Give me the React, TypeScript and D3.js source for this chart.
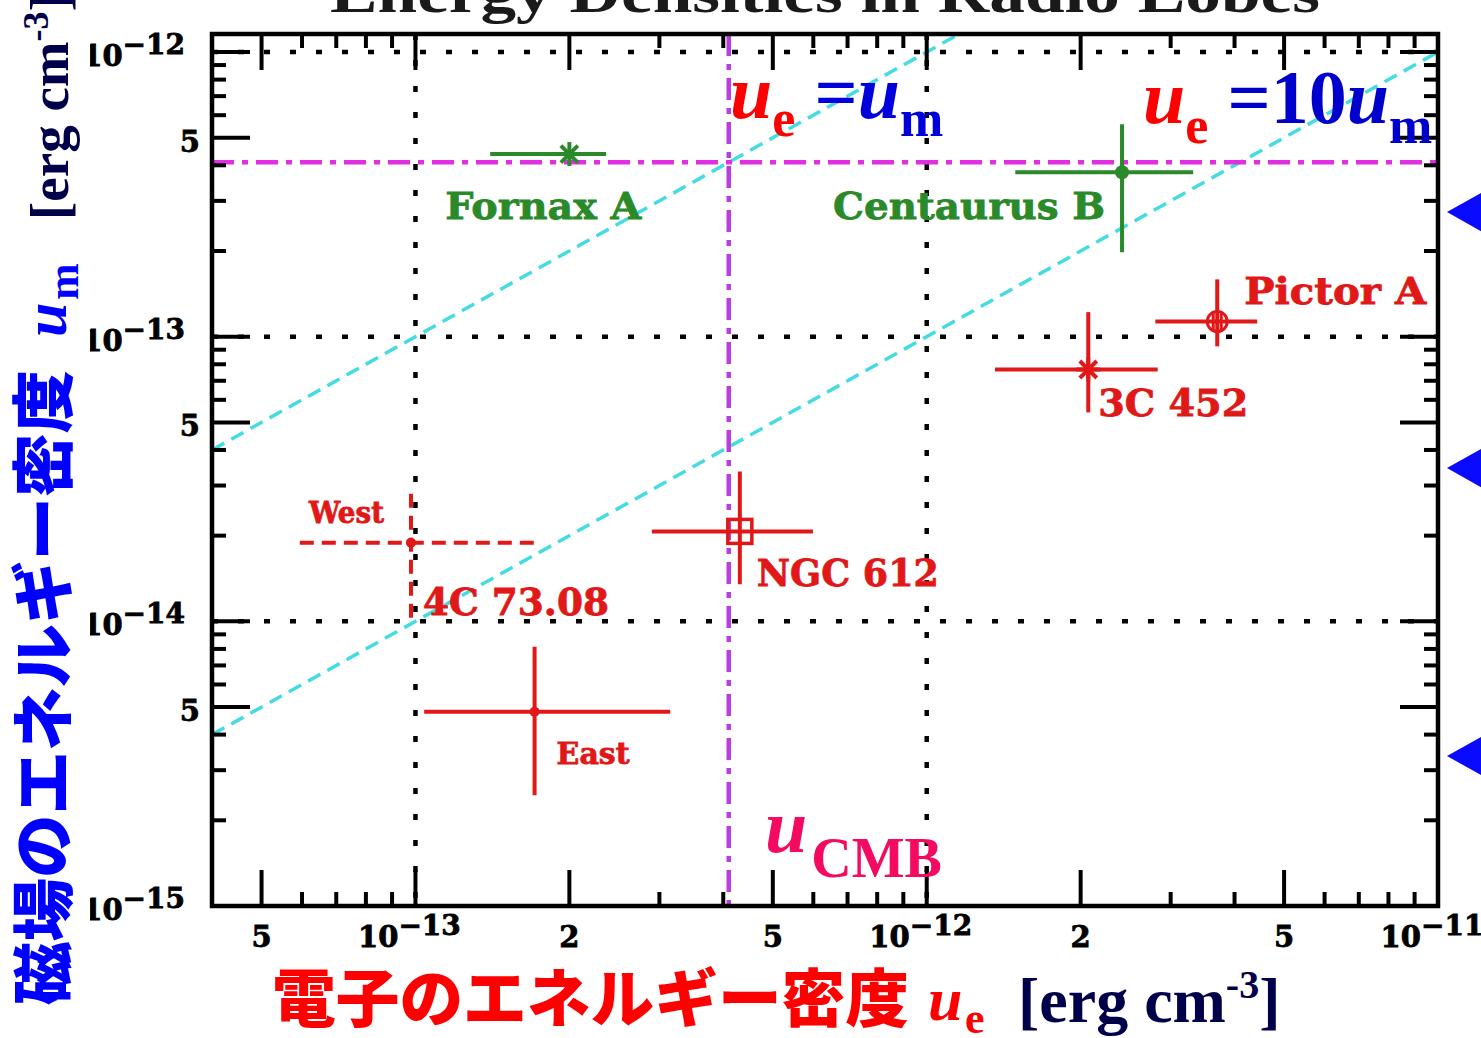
import React from "react";
import * as d3 from "d3";

// ---------------- data ----------------
const sourceNames = ["Fornax A", "Centaurus B", "3C 452", "Pictor A", "NGC 612", "4C 73.08 West", "4C 73.08 East"];
// electron energy density u_e [erg cm^-3]
const ueCenter = [2.0e-13, 2.41e-12, 2.07e-12, 3.70e-12, 4.31e-13, 9.8e-14, 1.71e-13];
const ueLow = [1.4e-13, 1.49e-12, 1.36e-12, 2.80e-12, 2.90e-13, 5.94e-14, 1.04e-13];
const ueHigh = [2.36e-13, 3.32e-12, 2.83e-12, 4.43e-12, 5.99e-13, 1.75e-13, 3.15e-13];
// magnetic energy density u_m [erg cm^-3]
const umCenter = [4.38e-13, 3.78e-13, 7.67e-14, 1.13e-13, 2.07e-14, 1.89e-14, 4.81e-15];
const umLow = [4.38e-13, 1.98e-13, 5.42e-14, 9.25e-14, 1.35e-14, 1.03e-14, 2.45e-15];
const umHigh = [4.38e-13, 5.58e-13, 1.22e-13, 1.59e-13, 3.36e-14, 2.9e-14, 8.15e-15];

const uCMB = 4.1e-13;
const equipartitionRatios = [1, 10]; // u_e / u_m

const xDomain = [4.0e-14, 1e-11];
const yDomain = [1e-15, 1.157e-12];
const xLabeledTicks = [5e-14, 1e-13, 2e-13, 5e-13, 1e-12, 2e-12, 5e-12, 1e-11];
const yLabeledTicks = [1e-15, 5e-15, 1e-14, 5e-14, 1e-13, 5e-13, 1e-12];
const gridDecadesX = [1e-13, 1e-12];
const gridDecadesY = [1e-14, 1e-13, 1e-12];

// point labels: text, source index
const labelTexts = ["Fornax A", "Centaurus B", "3C 452", "Pictor A", "NGC 612", "West", "4C 73.08", "East"];
const labelSource = [0, 1, 2, 3, 4, 5, 5, 6];

// ---------------- styles / layout ----------------
const W = 1481, H = 1038;
const P = { left: 212, right: 1438, top: 34, bottom: 906 };
const GREEN = "#2a8a2a";
const RED = "#e01818";
const styleByName: Record<string, { color: string; marker: string; dashed?: boolean }> = {
  "Fornax A": { color: GREEN, marker: "asterisk" },
  "Centaurus B": { color: GREEN, marker: "dot" },
  "3C 452": { color: RED, marker: "asterisk" },
  "Pictor A": { color: RED, marker: "circle" },
  "NGC 612": { color: RED, marker: "square" },
  "4C 73.08 West": { color: RED, marker: "smalldot", dashed: true },
  "4C 73.08 East": { color: RED, marker: "smalldot" },
};
// label layout: pixel offset from point, width, font size
const labelLayout = [
  { dx: -124, dy: 65, w: 196, fs: 38 },
  { dx: -289, dy: 47, w: 272, fs: 38 },
  { dx: 10, dy: 47, w: 150, fs: 37 },
  { dx: 27, dy: -18, w: 182, fs: 37 },
  { dx: 17, dy: 55, w: 182, fs: 37 },
  { dx: -102, dy: -20, w: 75, fs: 30 },
  { dx: 12, dy: 72, w: 186, fs: 37 },
  { dx: 22, dy: 52, w: 73, fs: 30 },
];

const TICKFONT = "'DejaVu Serif', serif";
const SERIF = "'Liberation Serif', 'Times New Roman', serif";
const CJK = "'Noto Sans CJK JP', sans-serif";

function mantissa(v: number) {
  const e = Math.floor(Math.log10(v) + 1e-9);
  return { m: Math.round(v / Math.pow(10, e)), e };
}

export default function App() {
  const x = d3.scaleLog().domain(xDomain).range([P.left, P.right]);
  const y = d3.scaleLog().domain(yDomain).range([P.bottom, P.top]);

  const xTicks = x.ticks().filter((v) => v > xDomain[0] * 1.001 && v < xDomain[1] * 0.999);
  const yTicks = y.ticks().filter((v) => v > yDomain[0] * 1.001 && v < yDomain[1] * 0.999);
  const isLongX = (v: number) => xLabeledTicks.some((t) => Math.abs(t - v) / t < 1e-6);
  const isLongY = (v: number) => yLabeledTicks.some((t) => Math.abs(t - v) / t < 1e-6);
  const LONG = 36, SHORT = 14;

  const marker = (kind: string, cx: number, cy: number, color: string) => {
    const r = 12;
    switch (kind) {
      case "asterisk":
        return (
          <g stroke={color} strokeWidth={4}>
            {[0, 45, 90, 135].map((a) => {
              const rad = (a * Math.PI) / 180;
              return (
                <line key={a} x1={cx - r * Math.cos(rad)} y1={cy - r * Math.sin(rad)} x2={cx + r * Math.cos(rad)} y2={cy + r * Math.sin(rad)} />
              );
            })}
          </g>
        );
      case "dot":
        return <circle cx={cx} cy={cy} r={7} fill={color} />;
      case "smalldot":
        return <circle cx={cx} cy={cy} r={5} fill={color} />;
      case "circle":
        return (
          <g stroke={color} strokeWidth={3} fill="none">
            <circle cx={cx} cy={cy} r={10} />
            <line x1={cx - 4} y1={cy - 10} x2={cx - 4} y2={cy + 10} />
            <line x1={cx + 4} y1={cy - 10} x2={cx + 4} y2={cy + 10} />
          </g>
        );
      case "square":
        return (
          <g stroke={color} strokeWidth={3.5} fill="none">
            <rect x={cx - 12} y={cy - 12} width={24} height={24} />
          </g>
        );
      default:
        return null;
    }
  };

  const supLabel = (v: number) => {
    const { m, e } = mantissa(v);
    if (m === 1) return { base: "10", sup: "\u2212" + String(-e) };
    return { base: String(m), sup: "" };
  };

  return (
    <svg width={W} height={H} style={{ position: "absolute", left: 0, top: 0, background: "#fff" }}>
      <defs>
        <clipPath id="plotClip">
          <rect x={P.left} y={P.top} width={P.right - P.left} height={P.bottom - P.top} />
        </clipPath>
        <clipPath id="yLabClip">
          <rect x={90} y={0} width={W} height={H} />
        </clipPath>
      </defs>
      <rect x={0} y={0} width={W} height={H} fill="#fff" />

      {/* Title (mostly cut off at top) */}
      <text x={330} y={12} fontFamily={SERIF} fontWeight="bold" fontSize={58} fill="#1a1a1a" textLength={990} lengthAdjust="spacingAndGlyphs">
        Energy Densities in Radio Lobes
      </text>

      {/* dotted grid at decades */}
      <g stroke="#000" strokeWidth={4.5} strokeDasharray="6,20">
        {gridDecadesX.map((v) => (
          <line key={"gx" + v} x1={x(v)} x2={x(v)} y1={P.top} y2={P.bottom} />
        ))}
        {gridDecadesY.map((v) => (
          <line key={"gy" + v} y1={y(v)} y2={y(v)} x1={P.left} x2={P.right} />
        ))}
      </g>

      {/* equipartition lines */}
      <g clipPath="url(#plotClip)" stroke="#44dce2" strokeWidth={3.5} strokeDasharray="14,8" fill="none">
        {equipartitionRatios.map((r) => (
          <line key={"eq" + r} x1={x(xDomain[0])} y1={y(xDomain[0] / r)} x2={x(xDomain[1])} y2={y(xDomain[1] / r)} />
        ))}
      </g>

      {/* u_CMB lines */}
      <line x1={P.left} x2={P.right} y1={y(uCMB)} y2={y(uCMB)} stroke="#e22ee2" strokeWidth={4.5} strokeDasharray="22,8,6,8" />
      <line y1={P.top} y2={P.bottom} x1={x(uCMB)} x2={x(uCMB)} stroke="#b83ee0" strokeWidth={4.5} strokeDasharray="22,8,6,8" />

      {/* error bars and markers */}
      {sourceNames.map((name, i) => {
        const st = styleByName[name];
        const cx = x(ueCenter[i]);
        const cy = y(umCenter[i]);
        const dash = st.dashed ? "14,8" : undefined;
        return (
          <g key={name}>
            <line x1={x(ueLow[i])} x2={x(ueHigh[i])} y1={cy} y2={cy} stroke={st.color} strokeWidth={4} strokeDasharray={dash} />
            {umLow[i] !== umHigh[i] && (
              <line x1={cx} x2={cx} y1={y(umLow[i])} y2={y(umHigh[i])} stroke={st.color} strokeWidth={4} strokeDasharray={dash} />
            )}
            {marker(st.marker, cx, cy, st.color)}
          </g>
        );
      })}

      {/* point labels */}
      {labelTexts.map((t, k) => {
        const i = labelSource[k];
        const L = labelLayout[k];
        const st = styleByName[sourceNames[i]];
        return (
          <text key={t} x={x(ueCenter[i]) + L.dx} y={y(umCenter[i]) + L.dy} fontFamily={TICKFONT} fontWeight="bold" fontSize={L.fs} fill={st.color} stroke={st.color} strokeWidth={0.8} textLength={L.w} lengthAdjust="spacingAndGlyphs">
            {t}
          </text>
        );
      })}

      {/* ticks */}
      <g stroke="#000" strokeWidth={4}>
        {xTicks.map((v) => {
          const len = isLongX(v) ? LONG : SHORT;
          return (
            <g key={"xt" + v}>
              <line x1={x(v)} x2={x(v)} y1={P.bottom} y2={P.bottom - len} />
              <line x1={x(v)} x2={x(v)} y1={P.top} y2={P.top + len} />
            </g>
          );
        })}
        {yTicks.map((v) => {
          const len = isLongY(v) ? LONG + 2 : SHORT;
          return (
            <g key={"yt" + v}>
              <line y1={y(v)} y2={y(v)} x1={P.left} x2={P.left + len} />
              <line y1={y(v)} y2={y(v)} x1={P.right} x2={P.right - len} />
            </g>
          );
        })}
      </g>

      {/* frame */}
      <rect x={P.left} y={P.top} width={P.right - P.left} height={P.bottom - P.top} fill="none" stroke="#000" strokeWidth={4.5} />

      {/* x tick labels */}
      {xLabeledTicks.map((v) => {
        const l = supLabel(v);
        return (
          <text key={"xl" + v} x={x(v) + (l.sup ? -6 : 0)} y={947} textAnchor="middle" fontFamily={TICKFONT} fontWeight="bold" fontSize={29} fill="#000" stroke="#000" strokeWidth={0.8}>
            {l.base}
            {l.sup && (
              <tspan dy={-12} fontSize={28}>
                {l.sup}
              </tspan>
            )}
          </text>
        );
      })}

      {/* y tick labels */}
      <g clipPath="url(#yLabClip)">
        {yLabeledTicks.map((v) => {
          const l = supLabel(v);
          return (
            <text key={"yl" + v} x={l.sup ? 185 : 200} y={y(v) + 14} textAnchor="end" fontFamily={TICKFONT} fontWeight="bold" fontSize={29} fill="#000" stroke="#000" strokeWidth={0.8}>
              {l.base}
              {l.sup && (
                <tspan dy={-12} fontSize={28}>
                  {l.sup}
                </tspan>
              )}
            </text>
          );
        })}
      </g>

      {/* annotations */}
      <text x={730} y={118} fontFamily={SERIF} fontWeight="bold" fontSize={76}>
        <tspan fill="#ff0000" fontStyle="italic">u</tspan>
        <tspan fill="#ff0000" fontSize={52} dy={18}>e</tspan>
        <tspan fill="#0000dd" dy={-18}> =</tspan>
        <tspan fill="#0000dd" fontStyle="italic">u</tspan>
        <tspan fill="#0000dd" fontSize={52} dy={18}>m</tspan>
      </text>
      <text x={1143} y={123} fontFamily={SERIF} fontWeight="bold" fontSize={76}>
        <tspan fill="#ff0000" fontStyle="italic">u</tspan>
        <tspan fill="#ff0000" fontSize={52} dy={20}>e</tspan>
        <tspan fill="#0000cc" dy={-20}> =10</tspan>
        <tspan fill="#0000cc" fontStyle="italic">u</tspan>
        <tspan fill="#0000cc" fontSize={52} dy={20}>m</tspan>
      </text>
      <text x={765} y={852} fontFamily={SERIF} fontWeight="bold" fontSize={76} fill="#f50a62">
        <tspan fontStyle="italic">u</tspan>
        <tspan fontSize={56} dy={25} dx={4}>CMB</tspan>
      </text>

      {/* x axis title */}
      <text x={272} y={1021} fontFamily={CJK} fontWeight={900} fontSize={63} fill="#ff0000" textLength={637} lengthAdjust="spacingAndGlyphs">
        電子のエネルギー密度
      </text>
      <text x={928} y={1020} fontFamily={SERIF} fontWeight="bold" fontStyle="italic" fontSize={62} fill="#ff0000">u</text>
      <text x={965} y={1033} fontFamily={SERIF} fontWeight="bold" fontSize={44} fill="#ff0000">e</text>
      <text x={1018} y={1022} fontFamily={SERIF} fontWeight="bold" fontSize={64} fill="#00004a">
        [erg cm<tspan fontSize={40} dy={-24}>-3</tspan>
        <tspan dy={24}>]</tspan>
      </text>

      {/* y axis title (rotated) */}
      <g transform="translate(66,1005) rotate(-90)">
        <text x={0} y={0} fontFamily={CJK} fontWeight={900} fontSize={63} fill="#0000ff" textLength={635} lengthAdjust="spacingAndGlyphs">
          磁場のエネルギー密度
        </text>
        <text x={668} y={0} fontFamily={SERIF} fontWeight="bold" fontStyle="italic" fontSize={62} fill="#0000ff">u</text>
        <text x={705} y={12} fontFamily={SERIF} fontWeight="bold" fontSize={44} fill="#0000ff">m</text>
        <text x={785} y={2} fontFamily={SERIF} fontWeight="bold" fontSize={55} fill="#00004a">
          [erg cm<tspan fontSize={36} dy={-20}>-3</tspan>
          <tspan dy={20}>]</tspan>
        </text>
      </g>

      {/* blue triangles on the right */}
      {[212, 468, 756].map((cy) => (
        <path key={"tri" + cy} d={`M1447,${cy} L1495,${cy - 27} L1495,${cy + 27} Z`} fill="#0a0aff" />
      ))}
    </svg>
  );
}
